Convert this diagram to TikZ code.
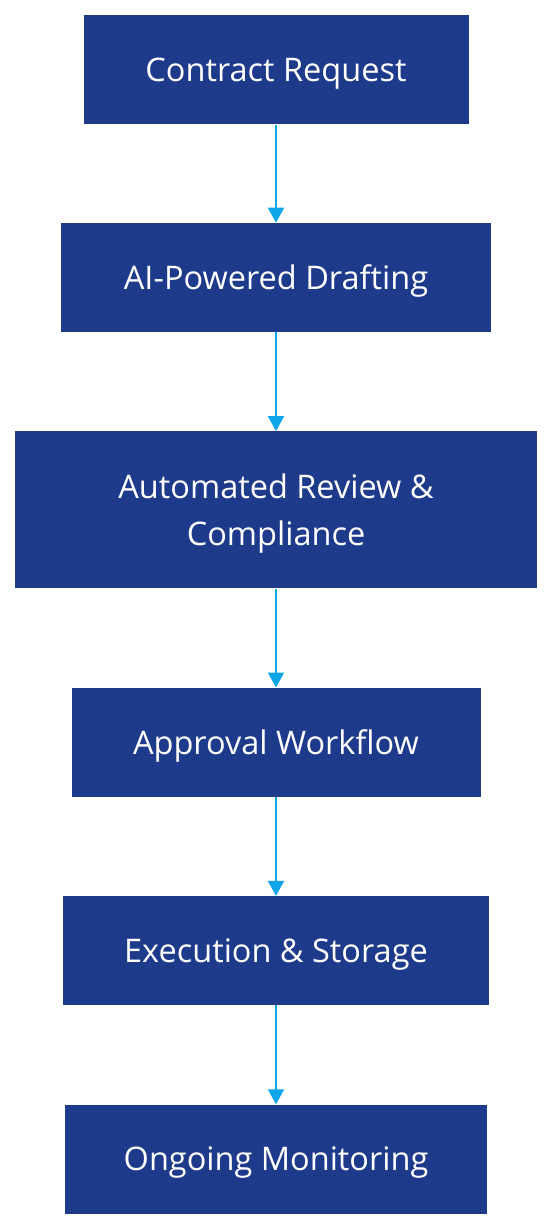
\documentclass[tikz,border=0pt]{standalone}
\usepackage{fontspec}
\setmainfont{Open Sans}
\usetikzlibrary{arrows.meta, positioning}
\definecolor{boxblue}{RGB}{30,58,138}
\definecolor{arrowblue}{RGB}{14,165,233}
\def\StepColor{boxblue}

\begin{document}
\begin{tikzpicture} [
    N/.style = {fill=\StepColor, text=white, minimum height=109pt, inner sep=0pt, align=center,
                text depth=0pt, font=\fontsize{32.5}{47}\selectfont},
    every edge/.style={draw=arrowblue, -{Triangle[width=16pt,length=15pt]}, line width=2pt}
    ]
  \useasboundingbox (0,0) rectangle (552pt,-1228pt);

  %%% REQUEST %%%
  \node[N, minimum width=385pt] (request) at (276pt,-70pt) {Contract Request};

  %%% DRAFTING %%%
  \node[N, minimum width=430pt] (drafting) [below =98pt of request] {AI-Powered Drafting};

  %%% REVIEW %%%
  \node[N, minimum width=522pt, minimum height=157pt] (review) [below =99pt of drafting] {Automated Review \&\\ Compliance};

  %%% APPROVAL %%%
  \node[N, minimum width=409pt] (approval) [below =99pt of review] {Approval Workflow};

  %%% EXECUTION %%%
  \node[N, minimum width=426pt] (execution) [below =99pt of approval] {Execution \& Storage};

  %%% MONITORING %%%
  \node[N, minimum width=422pt] (monitoring) [below =99pt of execution] {Ongoing Monitoring};

  % Edges
  \path (request) edge (drafting);
  \path (drafting) edge (review);
  \path (review) edge (approval);
  \path (approval) edge (execution);
  \path (execution) edge (monitoring);

\end{tikzpicture}
\end{document}
